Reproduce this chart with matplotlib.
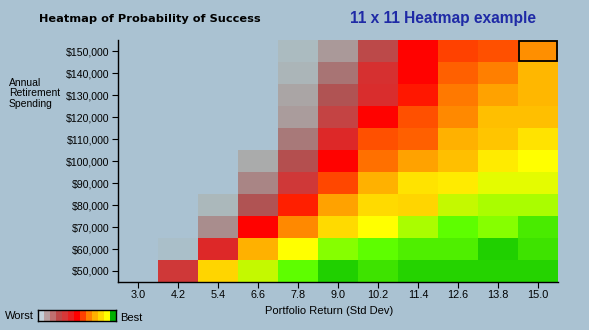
import numpy as np
import matplotlib
matplotlib.use("Agg")
import matplotlib.pyplot as plt
from matplotlib.colors import LinearSegmentedColormap, ListedColormap
from matplotlib.patches import Rectangle

returns = ["3.0", "4.2", "5.4", "6.6", "7.8", "9.0", "10.2", "11.4", "12.6", "13.8", "15.0"]
spending = ["$150,000", "$140,000", "$130,000", "$120,000", "$110,000", "$100,000",
            "$90,000", "$80,000", "$70,000", "$60,000", "$50,000"]
nan = np.nan
success = [
    [nan, nan, nan, nan, 3, 15, 33, 50, 56, 58, 66],
    [nan, nan, nan, nan, 5, 24, 40, 50, 60, 64, 71],
    [nan, nan, nan, nan, 10, 30, 41, 52, 63, 68, 71],
    [nan, nan, nan, nan, 14, 35, 50, 58, 65, 72, 72],
    [nan, nan, nan, nan, 23, 42, 58, 60, 70, 73, 77],
    [nan, nan, nan, 8, 31, 50, 62, 68, 72, 78, 80],
    [nan, nan, nan, 20, 38, 57, 70, 77, 78, 82, 82],
    [nan, nan, 4, 30, 53, 68, 76, 75, 84, 86, 86],
    [nan, nan, 18, 50, 65, 76, 80, 86, 90, 88, 93],
    [nan, 1, 42, 70, 80, 88, 90, 92, 92, 100, 95],
    [nan, 38, 75, 84, 90, 100, 95, 99, 99, 99, 99],
]
highlight = (0, 10)  # row, col of outlined cell

anchors = [(0, '#aac0cc'), (3, '#abbbbf'), (8, '#aaaaaa'), (16, '#aa9696'), (24, '#a87474'),
           (30, '#b05252'), (36, '#c84040'), (42, '#dd2828'), (50, '#ff0000'),
           (56, '#ff4000'), (62, '#ff7000'), (66, '#ff9000'), (70, '#ffb000'),
           (74, '#ffcc00'), (77, '#ffe000'), (80, '#ffff00'), (84, '#c8f800'),
           (87, '#a0ff00'), (90, '#60ff00'), (92, '#50f000'), (95, '#40e400'),
           (100, '#20d000')]
cmap = LinearSegmentedColormap.from_list('succ', [(v / 100, c) for v, c in anchors])
legend_colors = ['#c4d2da', '#b9a0a0', '#c07070', '#c04848', '#d83838', '#e82020',
                 '#ff0000', '#ff4000', '#ff8000', '#ffb000', '#ffd800', '#ffff00', '#00b000']

small = 'Liberation Sans'
bg = '#aac2d2'
fig = plt.figure(figsize=(5.89, 3.30), dpi=100, facecolor=bg)
ax = fig.add_axes([118 / 589, 48 / 330, 440 / 589, 242 / 330], facecolor=bg)

data = np.ma.masked_invalid(np.array(success, dtype=float))
ax.pcolormesh(np.arange(len(returns) + 1) - 0.5, np.arange(len(spending) + 1) - 0.5,
              data, cmap=cmap, vmin=0, vmax=100, shading='flat')
ax.set_xlim(-0.5, len(returns) - 0.5)
ax.set_ylim(len(spending) - 0.5, -0.5)
r, c = highlight
ax.add_patch(Rectangle((c - 0.48, r - 0.45), 0.96, 0.9, fill=False, ec='black', lw=1.3))

ax.set_xticks(range(len(returns)))
ax.set_xticklabels(returns, fontsize=7.8, family=small)
ax.set_yticks(range(len(spending)))
ax.set_yticklabels(spending, fontsize=7.6, family=small)
ax.tick_params(length=4, width=0.8, pad=2, colors='black')
for s in ['top', 'right']:
    ax.spines[s].set_visible(False)
for s in ['left', 'bottom']:
    ax.spines[s].set_linewidth(1.0)

fig.text(39 / 589, 1 - 19 / 330, "Heatmap of Probability of Success", fontsize=8.2,
         fontweight='bold', ha='left', va='center', color='black')
fig.text(350 / 589, 1 - 19 / 330, "11 x 11 Heatmap example", fontsize=11.2,
         fontweight='bold', ha='left', va='center', color='#1f2aa6', family='Liberation Sans')
fig.text(329 / 589, 1 - 311 / 330, "Portfolio Return (Std Dev)", fontsize=8,
         ha='center', va='center', family=small)
fig.text(9 / 589, 1 - 78 / 330, "Annual\nRetirement\nSpending", fontsize=7.5,
         ha='left', va='top', linespacing=1.05, family=small)

lax = fig.add_axes([38 / 589, 1 - 321 / 330, 78 / 589, 11 / 330])
lax.imshow([list(range(len(legend_colors)))], aspect='auto',
           cmap=ListedColormap(legend_colors), interpolation='nearest')
lax.set_xticks([]); lax.set_yticks([])
for s in lax.spines.values():
    s.set_linewidth(1.0)
fig.text(34 / 589, 1 - 316 / 330, "Worst", fontsize=8, ha='right', va='center', family=small)
fig.text(120 / 589, 1 - 318 / 330, "Best", fontsize=8, ha='left', va='center', family=small)

fig.savefig("out.png", dpi=100, facecolor=bg)
